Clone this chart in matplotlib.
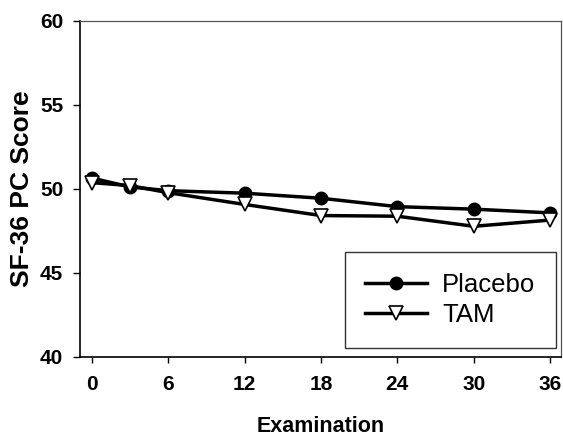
import matplotlib

matplotlib.use("Agg")
import matplotlib.pyplot as plt

# ── Data ──────────────────────────────────────────────────────────────────────
months = [0, 3, 6, 12, 18, 24, 30, 36]
placebo = [50.65, 50.12, 49.9, 49.75, 49.45, 48.95, 48.8, 48.58]
tam = [50.38, 50.2, 49.78, 49.08, 48.42, 48.38, 47.78, 48.15]
xticks = [0, 6, 12, 18, 24, 30, 36]
yticks = [40, 45, 50, 55, 60]

FONT = ["Liberation Sans", "DejaVu Sans"]

W, H = 563, 442
fig = plt.figure(figsize=(W / 100, H / 100), dpi=100)
# axes box in pixels: x 80..561, y 21..357
ax = fig.add_axes([80 / W, 1 - 357 / H, 481 / W, 336 / H])

ax.plot(months, placebo, color="black", lw=2.5, marker="o", ms=9,
        mfc="black", mec="black", label="Placebo", zorder=3)
ax.plot(months, tam, color="black", lw=2.5, marker="v", ms=10.5,
        mfc="white", mec="black", mew=1.2, label="TAM", zorder=4)

ax.set_xlim(-0.94, 36.86)
ax.set_ylim(40, 60)
ax.set_xticks(xticks)
ax.set_yticks(yticks)

for side in ("left", "bottom"):
    ax.spines[side].set_linewidth(1.2)
for side in ("top", "right"):
    ax.spines[side].set_linewidth(0.9)
    ax.spines[side].set_color("#555555")

ax.tick_params(axis="y", direction="out", length=5, width=1, pad=7)
ax.tick_params(axis="x", direction="out", length=4, width=1, pad=9)
for lab in ax.get_xticklabels() + ax.get_yticklabels():
    lab.set_family(FONT)
    lab.set_fontweight("bold")
    lab.set_fontsize(15)

ax.set_xlabel("Examination", family=FONT, fontsize=15.5, fontweight="bold")
ax.xaxis.set_label_coords(0.5, (357 - 426) / 336, transform=ax.transAxes)
ax.xaxis.label.set_va("center")
ax.set_ylabel("SF-36 PC Score", family=FONT, fontsize=19, fontweight="bold")
ax.yaxis.set_label_coords((22 - 80) / 481, 0.5, transform=ax.transAxes)
ax.yaxis.label.set_va("center")

leg = ax.legend(loc="lower right", bbox_to_anchor=(0.9896, 0.027),
                prop={"family": FONT, "size": 18.5}, frameon=True, fancybox=False,
                edgecolor="black", handlelength=2.4, borderpad=0.8, labelspacing=0.25,
                handletextpad=0.6, borderaxespad=0.0, markerscale=1.0)
leg.get_frame().set_linewidth(1.0)

fig.savefig("out.png", dpi=100, facecolor="white")
